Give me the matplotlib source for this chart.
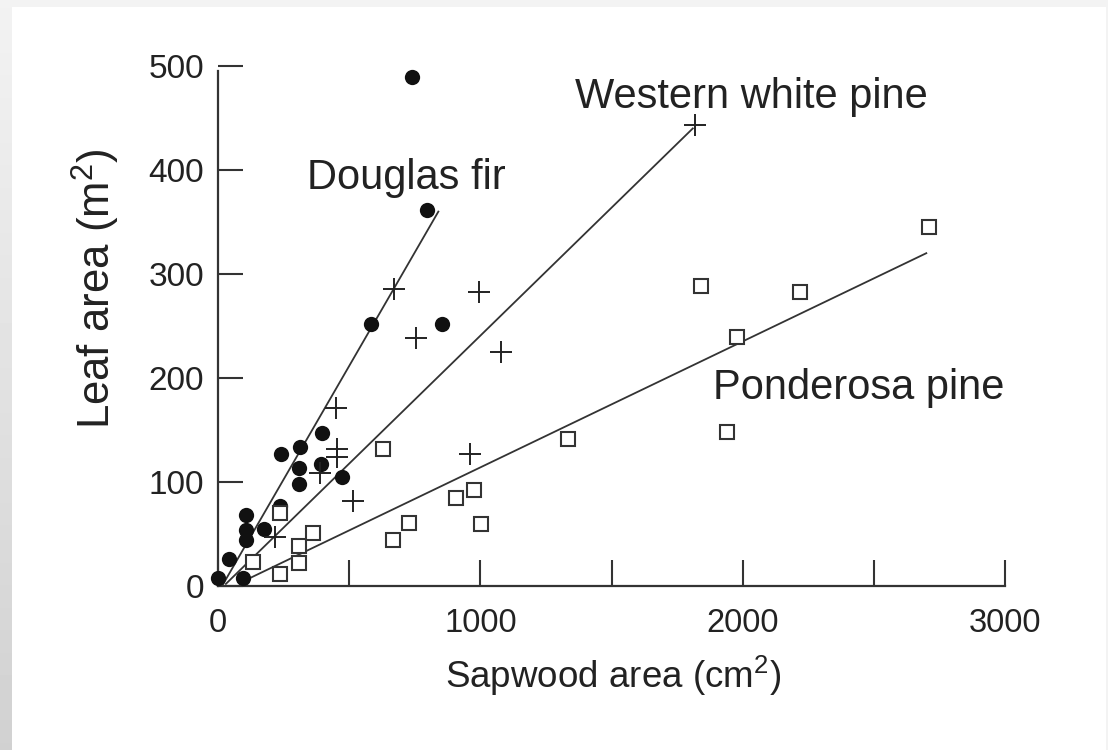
import numpy as np
import matplotlib
matplotlib.use("Agg")
import matplotlib.pyplot as plt
from matplotlib.patches import Rectangle
from matplotlib.ticker import MultipleLocator

plt.rcParams['font.family'] = ['Liberation Sans', 'DejaVu Sans']
plt.rcParams['mathtext.fontset'] = 'custom'
plt.rcParams['mathtext.rm'] = 'Liberation Sans'

# Douglas fir (filled circles)
df_x = [0, 42, 95, 106, 106, 106, 175, 236, 240, 309, 309, 313, 393, 396, 473, 583, 740, 797, 854]
df_y = [8, 26, 8, 68, 54, 44, 55, 77, 127, 98, 113, 134, 117, 147, 105, 252, 489, 362, 252]

# Western white pine (plus signs)
wp_x = [217, 389, 450, 453, 453, 515, 671, 755, 961, 995, 1079, 1818]
wp_y = [47, 109, 171, 132, 124, 82, 286, 238, 127, 283, 225, 443]

# Ponderosa pine (open squares)
pp_x = [134, 236, 236, 309, 309, 362, 629, 667, 728, 907, 976, 1003, 1334, 1841, 1940, 1979, 2219, 2711]
pp_y = [23, 12, 70, 38, 22, 51, 132, 44, 61, 85, 92, 60, 141, 288, 148, 239, 283, 345]

# fitted lines (end points)
df_line_x = [20, 840]
df_line_y = [2, 360]
wp_line_x = [30, 1810]
wp_line_y = [2, 440]
pp_line_x = [100, 2700]
pp_line_y = [5, 320]

labels = ["Douglas fir", "Western white pine", "Ponderosa pine"]
label_x = [339, 1361, 1887]
label_y = [382, 460, 180]

fig = plt.figure(figsize=(11.08, 7.5), dpi=100)
fig.patch.set_facecolor('#f3f3f3')

# grey frame on the left, white page
grad = fig.add_axes([0, 0, 12 / 1108, 1], zorder=-10)
grad.imshow(np.linspace(0.82, 0.95, 100).reshape(-1, 1), cmap='gray', vmin=0, vmax=1,
            aspect='auto', origin='lower', extent=[0, 1, 0, 1])
grad.axis('off')
fig.add_artist(Rectangle((12 / 1108, 0), 1094 / 1108, 743 / 750, transform=fig.transFigure,
                         facecolor='white', edgecolor='none', zorder=-5))

ax = fig.add_axes([218 / 1108, 1 - 586 / 750, 787 / 1108, 520 / 750])
ax.patch.set_alpha(0)

lc = '#333333'
ax.plot(df_line_x, df_line_y, color=lc, lw=1.3, zorder=2)
ax.plot(wp_line_x, wp_line_y, color=lc, lw=1.3, zorder=2)
ax.plot(pp_line_x, pp_line_y, color=lc, lw=1.3, zorder=2)

ax.plot(df_x, df_y, 'o', color='#111111', ms=11, mec='none', zorder=3, clip_on=False)
ax.plot(wp_x, wp_y, '+', color='#222222', ms=16, mew=1.4, zorder=3, clip_on=False)
ax.plot(pp_x, pp_y, 's', mfc='white', mec='#333333', ms=9.5, mew=1.5, zorder=3, clip_on=False)

for t, x, y in zip(labels, label_x, label_y):
    ax.text(x, y, t, fontsize=30, color='#222222', va='baseline', ha='left')

ax.set_xlim(0, 3000)
ax.set_ylim(0, 500)
ax.xaxis.set_major_locator(MultipleLocator(1000))
ax.xaxis.set_minor_locator(MultipleLocator(500))
ax.yaxis.set_major_locator(MultipleLocator(100))

for s in ['top', 'right']:
    ax.spines[s].set_visible(False)
for s in ['left', 'bottom']:
    ax.spines[s].set_linewidth(1.6)
    ax.spines[s].set_color(lc)
ax.spines['left'].set_bounds(0, 495)

ax.tick_params(axis='x', which='both', direction='in', length=19, width=1.5, color=lc,
               labelsize=23.5, pad=16, labelcolor='#222222')
ax.tick_params(axis='y', direction='in', length=18, width=1.5, color=lc,
               labelsize=24, pad=10, labelcolor='#222222')

ax.set_xlabel('Sapwood area (cm$^2$)', fontsize=26.5, color='#222222')
ax.xaxis.label.set_va('center')
ax.xaxis.set_label_coords(0.502, -0.172)
ax.set_ylabel('Leaf area (m$^2$)', fontsize=31.5, color='#222222')
ax.yaxis.set_label_coords(-0.122, 0.572)

fig.savefig('out.png', dpi=100)
